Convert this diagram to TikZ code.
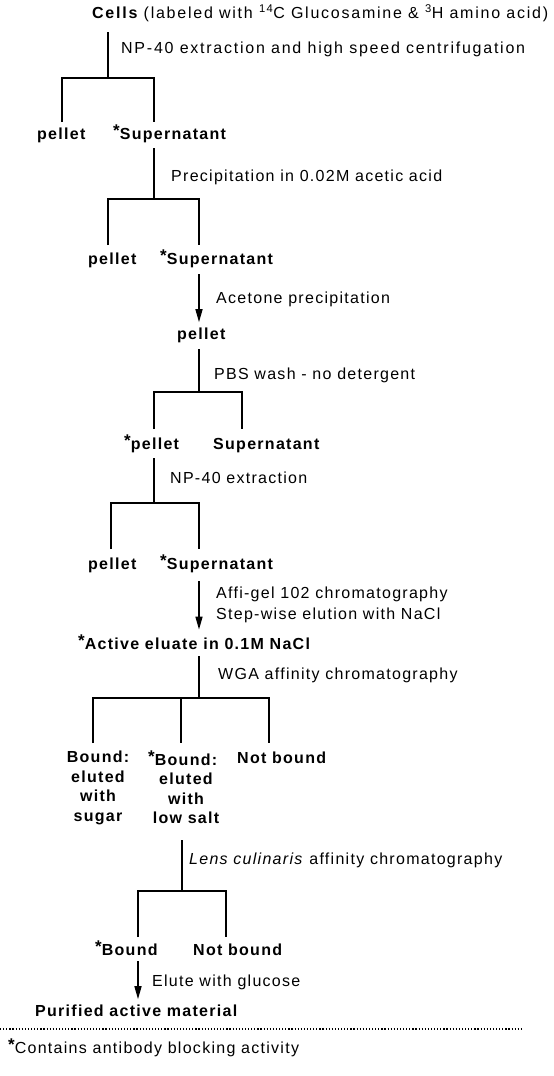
\documentclass[tikz,border=0pt]{standalone}
\usepackage{fontspec}
\setmainfont{Liberation Sans}[LetterSpace=8]
\usetikzlibrary{arrows.meta}
\newcommand\mystar{\raisebox{2.5pt}{\fontsize{17}{17}\selectfont\bfseries*}}
\begin{document}
\begin{tikzpicture}[x=1pt,y=-1pt,
  every node/.style={inner sep=0pt,anchor=base west,font=\fontsize{16}{19.5}\selectfont},
  res/.style={font=\fontsize{16}{19.5}\selectfont\bfseries},
  wide/.style={font=\fontsize{16}{19.5}\selectfont\addfontfeatures{LetterSpace=11}},
  col/.style={res,align=center,anchor=north},
  ln/.style={line width=1.4pt},
  arr/.style={line width=1.4pt,-{Triangle[length=13pt,width=7pt]}}]
\useasboundingbox (0,0) rectangle (554,1076);

% Cells
\node[wide] (cells) at (92,19) {\bfseries Cells \mdseries(labeled with \textsuperscript{14}C Glucosamine \& \textsuperscript{3}H amino acid)};
\node[wide] (t1) at (121,53) {NP-40 extraction and high speed centrifugation};
\coordinate (j1) at (108,78);
\draw[ln] (j1 |- cells.base) ++(0,13) -- (j1);
\coordinate (d1a) at (62,122);
\coordinate (d1b) at (154,122);
\draw[ln] (d1a) |- (j1) -| (d1b);
\node[res] (p1) at (37,139) {pellet};
\node[res] (s1) at (113,139) {\mystar Supernatant};

% Precipitation
\node (t2) at (171,181) {Precipitation in 0.02M acetic acid};
\coordinate (j2) at (154,199);
\draw[ln] (j2 |- s1.base) ++(0,9) -- (j2);
\coordinate (d2a) at (108,245);
\coordinate (d2b) at (199,245);
\draw[ln] (d2a) |- (j2) -| (d2b);
\node[res] (p2) at (88,264) {pellet};
\node[res] (s2) at (160,264) {\mystar Supernatant};

% Acetone
\node (t3) at (216,303) {Acetone precipitation};
\node[res] (p3) at (177,339) {pellet};
\draw[arr] (d2b |- s2.base) ++(0,10) -- ([yshift=5pt]p3.north -| d2b);

% PBS wash
\node (t4) at (214,379) {PBS wash - no detergent};
\coordinate (j4) at (199,392);
\draw[ln] (j4 |- p3.base) ++(0,10) -- (j4);
\coordinate (d4a) at (154,429);
\coordinate (d4b) at (242,429);
\draw[ln] (d4a) |- (j4) -| (d4b);
\node[res] (p4) at (124,449) {\mystar pellet};
\node[res] (s4) at (213,449) {Supernatant};

% NP-40 extraction
\node (t5) at (170,483) {NP-40 extraction};
\coordinate (j5) at (154,503);
\draw[ln] (j5 |- p4.base) ++(0,9) -- (j5);
\coordinate (d5a) at (111,549);
\coordinate (d5b) at (199,549);
\draw[ln] (d5a) |- (j5) -| (d5b);
\node[res] (p5) at (88,569) {pellet};
\node[res] (s5) at (160,569) {\mystar Supernatant};

% Affi-gel
\node (t6a) at (216,598) {Affi-gel 102 chromatography};
\node (t6b) at (216,619) {Step-wise elution with NaCl};
\node[res] (act) at (78,649) {\mystar Active eluate in 0.1M NaCl};
\draw[arr] (d5b |- s5.base) ++(0,12) -- ([yshift=5pt]act.north -| d5b);

% WGA
\node (t7) at (218,679) {WGA affinity chromatography};
\coordinate (j7) at (199,698);
\draw[ln] (j7 |- act.base) ++(0,7) -- (j7);
\coordinate (d7a) at (93,743);
\coordinate (d7b) at (181,743);
\coordinate (d7c) at (269,743);
\draw[ln] (d7a) |- (j7) -| (d7c);
\draw[ln] (d7b |- j7) -- (d7b);
\node[col] (b1) at (98,751) {Bound:\\eluted\\with\\sugar};
\node[col] (b2) at (186,751) {\llap{\mystar}Bound:\\eluted\\with\\low salt};
\node[res] (nb1) at (237,763) {Not bound};

% Lens culinaris
\node (t8) at (189,864) {\textit{Lens culinaris} affinity chromatography};
\coordinate (j8) at (182,891);
\draw[ln] (j8 |- b2.south) ++(0,16) -- (j8);
\coordinate (d8a) at (138,937);
\coordinate (d8b) at (226,937);
\draw[ln] (d8a) |- (j8) -| (d8b);
\node[res] (b3) at (95,955) {\mystar Bound};
\node[res] (nb3) at (193,955) {Not bound};

% Elute
\node (t9) at (152,986) {Elute with glucose};
\node[res] (pur) at (35,1016) {Purified active material};
\draw[arr] (d8a |- b3.base) ++(0,6) -- ([yshift=5pt]pur.north -| d8a);

% footnote
\coordinate (dl) at (0,1029);
\coordinate (dr) at (522,1029);
\draw[line width=1.2pt,dash pattern=on 1.2pt off 1.9pt] (dl) -- (dr);
\node (fn) at (8,1053) {\mystar Contains antibody blocking activity};
\end{tikzpicture}
\end{document}
